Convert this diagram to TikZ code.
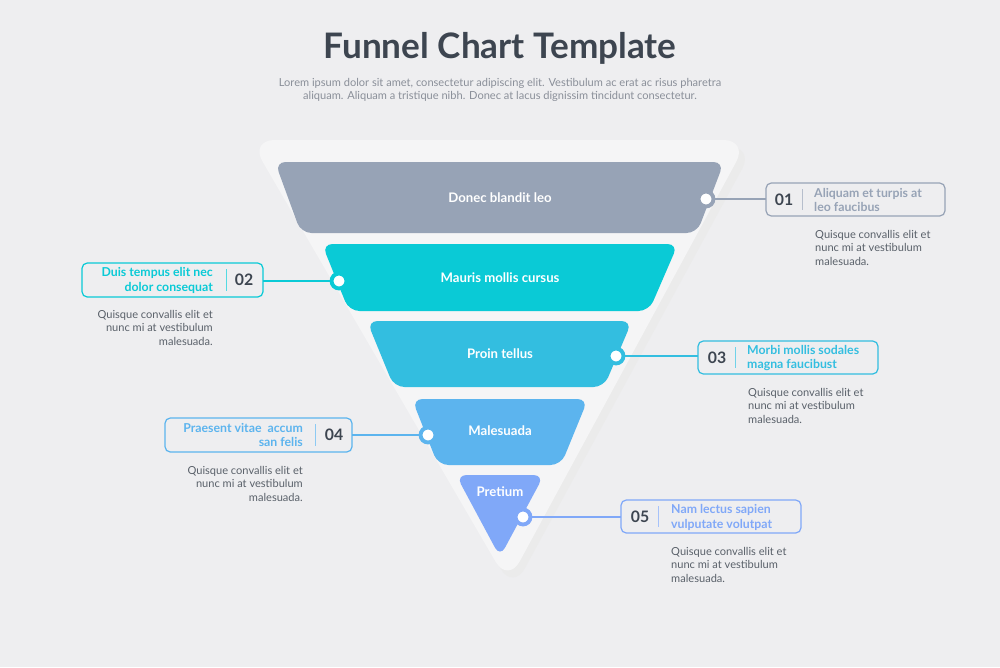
\documentclass[tikz,border=0pt]{standalone}
\usepackage{fontspec}
\setmainfont{Lato}
\usetikzlibrary{positioning}
\definecolor{bgc}{HTML}{EEEEF0}
\definecolor{ink}{HTML}{3D4550}
\definecolor{greytxt}{HTML}{8A8F99}
\definecolor{stepA}{HTML}{97A3B6}
\definecolor{stepB}{HTML}{0ACAD6}
\definecolor{stepC}{HTML}{33BEE0}
\definecolor{stepD}{HTML}{5CB4EE}
\definecolor{stepE}{HTML}{80A8F8}
\tikzset{%
    band/.style={fill=#1, rounded corners=6pt},
    bandlabel/.style={text=white, font=\bfseries\fontsize{7.5}{9}\selectfont},
    callbox/.style={draw=#1, line width=0.7pt, rounded corners=3pt, fill=bgc},
    calltext/.style={text=#1, font=\bfseries\fontsize{7}{8.5}\selectfont, align=left},
    numtext/.style={text=ink, font=\bfseries\fontsize{9}{10}\selectfont},
    desc/.style={text=ink!85, font=\fontsize{6.3}{7.6}\selectfont},
    dot/.style={circle, draw=#1, line width=2.2pt, fill=white, inner sep=0pt, minimum size=8.5pt},
    link/.style={draw=#1, line width=0.6pt}
}
\begin{document}
\begin{tikzpicture}[x=0.02cm, y=-0.02cm]
    \fill[bgc] (0,0) rectangle (1000,667);
%-----------------------------------------------
    \node[text=ink, font=\bfseries\fontsize{20}{24}\selectfont] (title) at (500,48) {Funnel Chart Template};
    \node[text=greytxt, font=\fontsize{6.3}{7.8}\selectfont, align=center] (sub) at (500,90)
        {Lorem ipsum dolor sit amet, consectetur adipiscing elit. Vestibulum ac erat ac risus pharetra\\
         aliquam. Aliquam a tristique nibh. Donec at lacus dignissim tincidunt consectetur.};
%-----------------------------------------------
    \fill[black!8, rounded corners=14pt] (256,147) -- (754,147) -- (513,590) -- cycle;
    \fill[white!40!bgc, rounded corners=14pt] (250,140) -- (748,140) -- (508,583) -- cycle;
%-----------------------------------------------
    \fill[band=stepA] (275,162) -- (724,162) -- (697,233) -- (301,233) -- cycle;
    \fill[band=stepB] (322,244) -- (678,244) -- (649,311) -- (349,311) -- cycle;
    \fill[band=stepC] (367,321) -- (632,321) -- (604,387) -- (394,387) -- cycle;
    \fill[band=stepD] (412,399) -- (588,399) -- (561,465) -- (438,465) -- cycle;
    \fill[band=stepE] (456,475) -- (544,475) -- (500,557) -- cycle;
    \node[bandlabel] (l1) at (500,198) {Donec blandit leo};
    \node[bandlabel] (l2) at (500,278) {Mauris mollis cursus};
    \node[bandlabel] (l3) at (500,354) {Proin tellus};
    \node[bandlabel] (l4) at (500,431) {Malesuada};
    \node[bandlabel] (l5) at (500,492) {Pretium};
%-----------------------------------------------
    % right side callouts
    \draw[callbox=stepA] (766,183) rectangle (945,216);
    \draw[stepA!70] (802,189) -- (802,210);
    \node[numtext] (n1) at (784,200) {01};
    \node[calltext=stepA, anchor=west] (t1) at (808,200) {Aliquam et turpis at\\leo faucibus};
    \node[desc, anchor=north west, align=left] (d1) at (809,224) {Quisque convallis elit et\\nunc mi at vestibulum\\malesuada.};
    \node[dot=stepA] (p1) at (706,199) {};
    \draw[link=stepA] (p1) -- (766,199);

    \draw[callbox=stepC] (698,341) rectangle (878,374);
    \draw[stepC!70] (735,347) -- (735,368);
    \node[numtext] (n3) at (717,358) {03};
    \node[calltext=stepC, anchor=west] (t3) at (741,358) {Morbi mollis sodales\\magna faucibust};
    \node[desc, anchor=north west, align=left] (d3) at (742,382) {Quisque convallis elit et\\nunc mi at vestibulum\\malesuada.};
    \node[dot=stepC] (p3) at (616,356) {};
    \draw[link=stepC] (p3) -- (698,356);

    \draw[callbox=stepE] (621,500) rectangle (801,533);
    \draw[stepE!70] (658,506) -- (658,527);
    \node[numtext] (n5) at (640,517) {05};
    \node[calltext=stepE, anchor=west] (t5) at (665,517) {Nam lectus sapien\\vulputate volutpat};
    \node[desc, anchor=north west, align=left] (d5) at (665,541) {Quisque convallis elit et\\nunc mi at vestibulum\\malesuada.};
    \node[dot=stepE] (p5) at (523,517) {};
    \draw[link=stepE] (p5) -- (621,517);
%-----------------------------------------------
    % left side callouts
    \draw[callbox=stepB] (82,263) rectangle (263,297);
    \draw[stepB!70] (226,269) -- (226,291);
    \node[numtext] (n2) at (244,280) {02};
    \node[calltext=stepB, anchor=east, align=right] (t2) at (219,280) {Duis tempus elit nec\\dolor consequat};
    \node[desc, anchor=north east, align=right] (d2) at (219,304) {Quisque convallis elit et\\nunc mi at vestibulum\\malesuada.};
    \node[dot=stepB] (p2) at (339,281) {};
    \draw[link=stepB] (263,281) -- (p2);

    \draw[callbox=stepD] (165,418) rectangle (352,452);
    \draw[stepD!70] (315,424) -- (315,446);
    \node[numtext] (n4) at (334,435) {04};
    \node[calltext=stepD, anchor=east, align=right] (t4) at (309,435) {Praesent vitae\ \ accum\\san felis};
    \node[desc, anchor=north east, align=right] (d4) at (309,460) {Quisque convallis elit et\\nunc mi at vestibulum\\malesuada.};
    \node[dot=stepD] (p4) at (428,435) {};
    \draw[link=stepD] (352,435) -- (p4);
\end{tikzpicture}
\end{document}
